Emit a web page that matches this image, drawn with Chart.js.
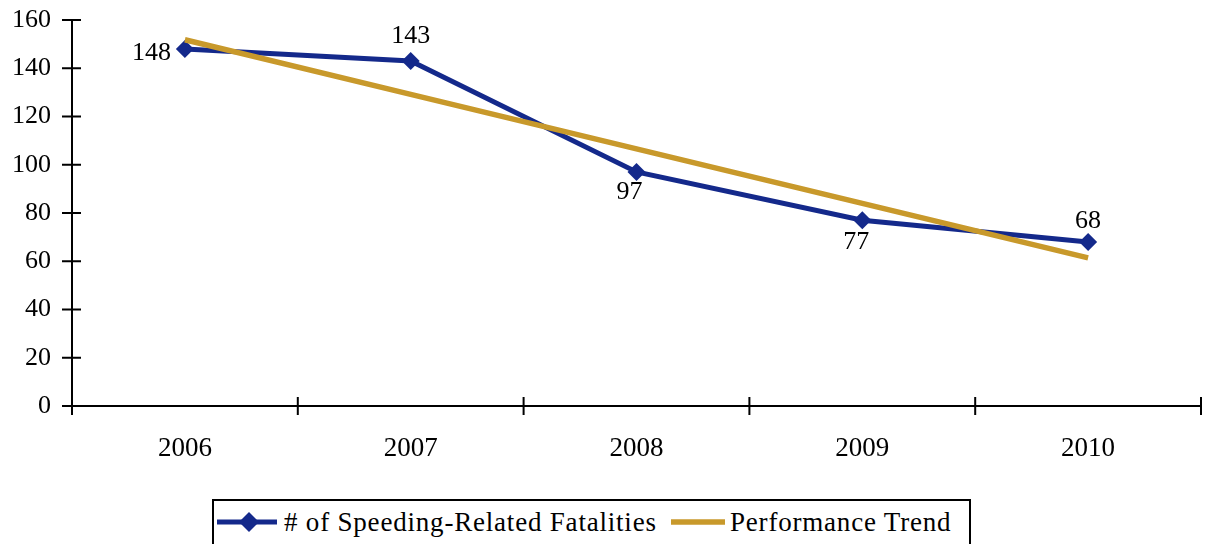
<!DOCTYPE html>
<html>
<head>
<meta charset="utf-8">
<script src="https://cdn.jsdelivr.net/npm/chart.js@4/dist/chart.umd.min.js"></script>
<style>
  html, body { margin: 0; padding: 0; background: #fff; }
  #wrap { position: relative; width: 1205px; height: 544px; overflow: hidden; }
  #chart { position: absolute; left: 0; top: 0; }
  .legend {
    position: absolute; left: 212px; top: 499px; width: 759px; height: 60px;
    border: 2px solid #000; box-sizing: border-box;
    font-family: "Liberation Serif", serif; font-size: 27px; letter-spacing: 0.8px; color: #000;
    white-space: nowrap;
  }
  .legend canvas, .legend span { position: absolute; }
  .legend span { top: 5px; line-height: 32px; }
</style>
</head>
<body>
<div id="wrap">
  <canvas id="chart" width="1205" height="490"></canvas>
  <div class="legend">
    <canvas id="sym1" width="62" height="22" style="left:2px; top:10px"></canvas>
    <span style="left:70px"># of Speeding-Related Fatalities</span>
    <canvas id="sym2" width="56" height="22" style="left:456px; top:10px"></canvas>
    <span style="left:516px">Performance Trend</span>
  </div>
</div>
<script>
const years = ['2006', '2007', '2008', '2009', '2010'];
const fatalities = [148, 143, 97, 77, 68];
const trend = [151.8, 129.2, 106.6, 84.0, 61.4];
const yTicks = [0, 20, 40, 60, 80, 100, 120, 140, 160];

const blue = '#14298b';
const gold = '#c8992b';
const fontFamily = '"Liberation Serif", serif';

// label placement next to each point: [align, dx, dy] (dy to the text baseline)
const labelSpots = [['right', -14, 11], ['center', 0, -18], ['center', -7, 27], ['center', -6, 29], ['center', 0, -14]];

const crossTicks = {
  id: 'crossTicks',
  afterDraw(chart) {
    const ctx = chart.ctx;
    const x = chart.scales.x, y = chart.scales.y;
    ctx.save();
    ctx.strokeStyle = '#000';
    ctx.lineWidth = 2;
    ctx.beginPath();
    yTicks.forEach(v => {
      const py = y.getPixelForValue(v);
      ctx.moveTo(x.left - 10, py);
      ctx.lineTo(x.left + 9, py);
    });
    const step = x.getPixelForValue(1) - x.getPixelForValue(0);
    for (let i = 0; i <= years.length; i++) {
      const px = x.getPixelForValue(0) - step / 2 + i * step;
      ctx.moveTo(px, y.bottom - 9);
      ctx.lineTo(px, y.bottom + 9);
    }
    ctx.stroke();
    ctx.restore();
  }
};

const valueLabels = {
  id: 'valueLabels',
  afterDatasetsDraw(chart) {
    const ctx = chart.ctx;
    const meta = chart.getDatasetMeta(1);
    ctx.save();
    ctx.font = '26px ' + fontFamily;
    ctx.fillStyle = '#000';
    ctx.textBaseline = 'alphabetic';
    meta.data.forEach((pt, i) => {
      const [align, dx, dy] = labelSpots[i];
      ctx.textAlign = align;
      ctx.fillText(String(fatalities[i]), pt.x + dx, pt.y + dy);
    });
    ctx.restore();
  }
};

new Chart(document.getElementById('chart').getContext('2d'), {
  type: 'line',
  data: {
    labels: years,
    datasets: [
      {
        label: 'Performance Trend',
        data: trend,
        borderColor: gold,
        borderWidth: 5.5,
        pointRadius: 0,
        fill: false,
        tension: 0,
        order: 0
      },
      {
        label: '# of Speeding-Related Fatalities',
        data: fatalities,
        borderColor: blue,
        backgroundColor: blue,
        borderWidth: 5,
        pointStyle: 'rectRot',
        pointRadius: 9,
        pointBorderWidth: 0,
        fill: false,
        tension: 0,
        order: 1
      }
    ]
  },
  options: {
    responsive: false,
    animation: false,
    layout: { autoPadding: false, padding: { left: 0, right: 4, top: 20, bottom: 0 } },
    plugins: {
      legend: { display: false },
      tooltip: { enabled: false }
    },
    scales: {
      x: {
        offset: true,
        grid: { display: false },
        border: { display: true, color: '#000', width: 2 },
        ticks: { color: '#000', font: { family: fontFamily, size: 27 }, padding: 19, maxRotation: 0 },
        afterFit(scale) { scale.height = 84; scale.paddingLeft = 0; scale.paddingRight = 0; }
      },
      y: {
        min: 0,
        max: 160,
        grid: { display: false },
        border: { display: true, color: '#000', width: 2 },
        ticks: { stepSize: 20, color: '#000', font: { family: fontFamily, size: 26 }, padding: 13 },
        afterFit(scale) { scale.width = 72; scale.paddingTop = 0; scale.paddingBottom = 0; }
      }
    }
  },
  plugins: [crossTicks, valueLabels]
});

// legend symbols
(function () {
  const c1 = document.getElementById('sym1').getContext('2d');
  c1.strokeStyle = blue; c1.lineWidth = 5;
  c1.beginPath(); c1.moveTo(1, 11); c1.lineTo(61, 11); c1.stroke();
  c1.fillStyle = blue;
  c1.beginPath(); c1.moveTo(33, 1); c1.lineTo(43, 11); c1.lineTo(33, 21); c1.lineTo(23, 11); c1.closePath(); c1.fill();
  const c2 = document.getElementById('sym2').getContext('2d');
  c2.strokeStyle = gold; c2.lineWidth = 5.5;
  c2.beginPath(); c2.moveTo(1, 11); c2.lineTo(55, 11); c2.stroke();
})();
</script>
</body>
</html>
